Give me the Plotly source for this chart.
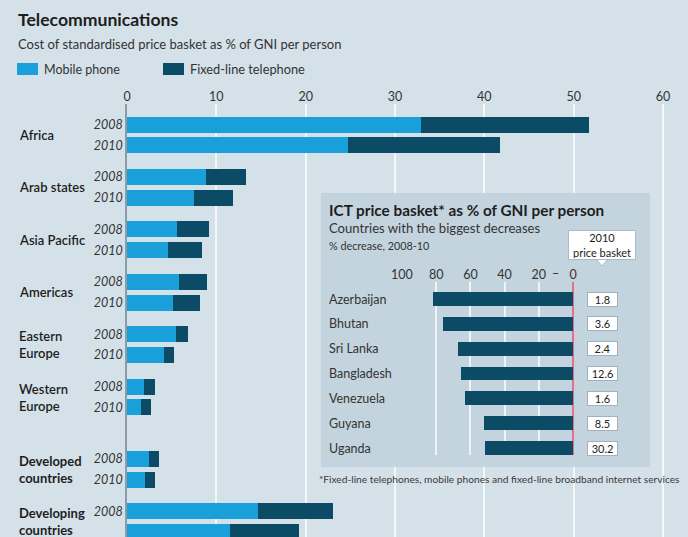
import plotly.graph_objects as go

# ---------------------------------------------------------------- data
regions = ["Africa", "Arab states", "Asia Pacific", "Americas",
           "Eastern<br>Europe", "Western<br>Europe",
           "Developed<br>countries", "Developing<br>countries"]
years = ["2008", "2010"]

# cost of price basket, % of GNI per person
mobile_2008 = [32.9, 8.8, 5.6, 5.8, 5.5, 1.9, 2.5, 14.7]
fixed_2008 = [18.8, 4.5, 3.6, 3.1, 1.3, 1.2, 1.1, 8.4]
mobile_2010 = [24.7, 7.5, 4.6, 5.1, 4.1, 1.6, 2.0, 11.5]
fixed_2010 = [17.0, 4.4, 3.8, 3.1, 1.2, 1.1, 1.1, 7.8]
main_ticks = [0, 10, 20, 30, 40, 50, 60]

# inset: ICT price basket, biggest decreases 2008-10
countries = ["Azerbaijan", "Bhutan", "Sri Lanka", "Bangladesh",
             "Venezuela", "Guyana", "Uganda"]
decrease_pct = [82.0, 75.8, 67.4, 65.5, 63.2, 51.9, 51.3]
basket_2010 = [1.8, 3.6, 2.4, 12.6, 1.6, 8.5, 30.2]
inset_ticks = [100, 80, 60, 40, 20, 0]

# ---------------------------------------------------------------- style
W, H = 688, 537
BG = "#d4e1e9"
INSET_BG = "#c3d4de"
MOBILE = "#199fda"
FIXED = "#0c4b66"
GRID = "#f3f7f9"
AXIS = "#8d9ba4"
TEXT = "#262626"
FONT = "Lato, 'Noto Sans', sans-serif"


def px(x):
    return x / W


def py(y):
    return 1 - y / H


# main chart geometry (pixels per unit / per row)
MAIN_X0, MAIN_SCALE = 127, (663 - 127) / 60
ROW_STEP, YEAR_OFFSET, SUMMARY_GAP, BAR_H = 52.4, 10.4, 20, 16

centres = []
pos = 0.0
for i, _ in enumerate(regions):
    if i == 6:          # extra space before the developed/developing summary rows
        pos += SUMMARY_GAP
    centres.append(pos)
    pos += ROW_STEP
y_2008 = [c - YEAR_OFFSET for c in centres]
y_2010 = [c + YEAR_OFFSET for c in centres]
bar_y = y_2008 + y_2010

fig = go.Figure()

fig.add_trace(go.Bar(
    name="Mobile phone", orientation="h",
    x=mobile_2008 + mobile_2010, y=bar_y, width=BAR_H,
    marker=dict(color=MOBILE, line=dict(width=0)),
    xaxis="x", yaxis="y", showlegend=False,
))
fig.add_trace(go.Bar(
    name="Fixed-line telephone", orientation="h",
    x=fixed_2008 + fixed_2010, y=bar_y, width=BAR_H,
    marker=dict(color=FIXED, line=dict(width=0)),
    xaxis="x", yaxis="y", showlegend=False,
))

# empty subplot that carries the inset panel background
fig.add_trace(go.Scatter(x=[], y=[], xaxis="x2", yaxis="y2",
                         showlegend=False, hoverinfo="skip"))

# inset bars
fig.add_trace(go.Bar(
    orientation="h", x=decrease_pct, y=countries, width=0.56,
    marker=dict(color=FIXED, line=dict(width=0)),
    xaxis="x3", yaxis="y3", showlegend=False,
))

# inset geometry
INSET_ZERO, INSET_SCALE = 573, 1.71
INSET_LO, INSET_HI = 100.5, -0.8

fig.update_layout(
    template="none",
    width=W, height=H, autosize=False,
    margin=dict(l=0, r=0, t=0, b=0, pad=0, autoexpand=False),
    paper_bgcolor=BG, plot_bgcolor="rgba(0,0,0,0)",
    barmode="stack", bargap=0,
    font=dict(family=FONT, color=TEXT),
    xaxis=dict(
        domain=[px(MAIN_X0), px(MAIN_X0 + 60.2 * MAIN_SCALE)],
        range=[0, 60.2], side="top", anchor="y", automargin=False,
        tickvals=main_ticks, ticks="",
        tickfont=dict(size=12.5, color="#333333"),
        showgrid=True, gridcolor=GRID, gridwidth=2,
        zeroline=False, showline=False, fixedrange=True,
    ),
    yaxis=dict(
        domain=[0, py(104)], range=[402, -31], anchor="x", automargin=False,
        tickvals=bar_y, ticktext=[years[0]] * len(regions) + [years[1]] * len(regions),
        ticks="", tickfont=dict(size=12.5, color="#333333", style="italic"),
        showgrid=False, zeroline=False,
        showline=True, linecolor=AXIS, linewidth=1.5, fixedrange=True,
    ),
    xaxis2=dict(domain=[px(321), px(650)], range=[0, 1], anchor="y2",
                visible=False, automargin=False),
    yaxis2=dict(domain=[py(467), py(193)], range=[0, 1], anchor="x2",
                visible=False, automargin=False),
    xaxis3=dict(
        domain=[px(INSET_ZERO - INSET_LO * INSET_SCALE), px(INSET_ZERO - INSET_HI * INSET_SCALE)],
        range=[INSET_LO, INSET_HI], side="top", anchor="y3", automargin=False,
        tickvals=inset_ticks, ticks="",
        tickfont=dict(size=12.5, color="#333333"),
        showgrid=True, gridcolor="#edf3f6", gridwidth=1.5,
        zeroline=True, zerolinecolor="#e0728f", zerolinewidth=1.5,
        showline=False, fixedrange=True,
    ),
    yaxis3=dict(
        domain=[py(455), py(282)], anchor="x3", type="category", automargin=False,
        categoryarray=countries, range=[6.28, -0.685],
        showticklabels=False, showgrid=False, zeroline=False, fixedrange=True,
    ),
)

shapes = [
    # inset panel
    dict(type="rect", xref="x2", yref="y2", x0=0, x1=1, y0=0, y1=1,
         fillcolor=INSET_BG, line=dict(width=0), layer="below"),
    # legend swatches
    dict(type="rect", xref="paper", yref="paper",
         x0=px(17), x1=px(38), y0=py(75), y1=py(63),
         fillcolor=MOBILE, line=dict(width=0), layer="above"),
    dict(type="rect", xref="paper", yref="paper",
         x0=px(163), x1=px(184), y0=py(75), y1=py(63),
         fillcolor=FIXED, line=dict(width=0), layer="above"),
    # tail of the "2010 price basket" callout
    dict(type="path", xref="paper", yref="paper",
         path=f"M {px(596)} {py(259)} L {px(602)} {py(266)} L {px(608)} {py(259)} Z",
         fillcolor="white", line=dict(color="#a9bcc8", width=1), layer="above"),
]

annotations = [
    dict(text="<b>Telecommunications</b>", x=px(16), y=py(19),
         font=dict(size=17.6, color="#1e1e1e")),
    dict(text="Cost of standardised price basket as % of GNI per person",
         x=px(16), y=py(44), font=dict(size=13, color="#333333")),
    dict(text="Mobile phone", x=px(42), y=py(69), font=dict(size=12.5, color="#333333")),
    dict(text="Fixed-line telephone", x=px(188), y=py(69), font=dict(size=12.8, color="#333333")),
    # inset titles
    dict(text="<b>ICT price basket* as % of GNI per person</b>", x=px(327), y=py(210),
         font=dict(size=15.3, color="#1e1e1e")),
    dict(text="Countries with the biggest decreases", x=px(327), y=py(228),
         font=dict(size=13.1, color="#333333")),
    dict(text="% decrease, 2008-10", x=px(327), y=py(245),
         font=dict(size=10.8, color="#333333")),
    dict(text="*Fixed-line telephones, mobile phones and fixed-line broadband internet services",
         x=px(317), y=py(479), font=dict(size=10.2, color="#3a3a3a")),
]
for a in annotations:
    a.update(xref="paper", yref="paper", xanchor="left", yanchor="middle",
             showarrow=False, align="left")

# region names beside each pair of bars
for name, c in zip(regions, centres):
    summary = name.startswith("Develop")
    annotations.append(dict(
        text=f"<b>{name}</b>" if summary else name,
        xref="paper", x=px(17), yref="y", y=c,
        xanchor="left", yanchor="middle", align="left", showarrow=False,
        font=dict(size=13, color="#1e1e1e", weight=700 if summary else 600),
    ))

# inset axis separator between 20 and 0
annotations.append(dict(text="–", xref="x3", x=10, yref="paper", y=py(273),
                        showarrow=False, font=dict(size=12.5, color="#333333")))

# inset country names and 2010 basket values
for name, val in zip(countries, basket_2010):
    annotations.append(dict(
        text=name, xref="paper", x=px(327), yref="y3", y=name,
        xanchor="left", yanchor="middle", showarrow=False,
        font=dict(size=12.5, color="#333333"),
    ))
    annotations.append(dict(
        text=f"{val}", xref="paper", x=px(602.5), yref="y3", y=name,
        xanchor="center", yanchor="middle", showarrow=False,
        width=27, height=11, borderpad=1, borderwidth=1,
        bordercolor="#9fb2be", bgcolor="white",
        font=dict(size=11, color="#222222"),
    ))

annotations.append(dict(
    text="2010<br>price basket", xref="paper", x=px(602), yref="paper", y=py(245),
    xanchor="center", yanchor="middle", showarrow=False,
    width=64, height=26, borderpad=1, borderwidth=1,
    bordercolor="#a9bcc8", bgcolor="white",
    font=dict(size=11, color="#222222"),
))

fig.update_layout(shapes=shapes, annotations=annotations)

fig.write_html("out.html")
